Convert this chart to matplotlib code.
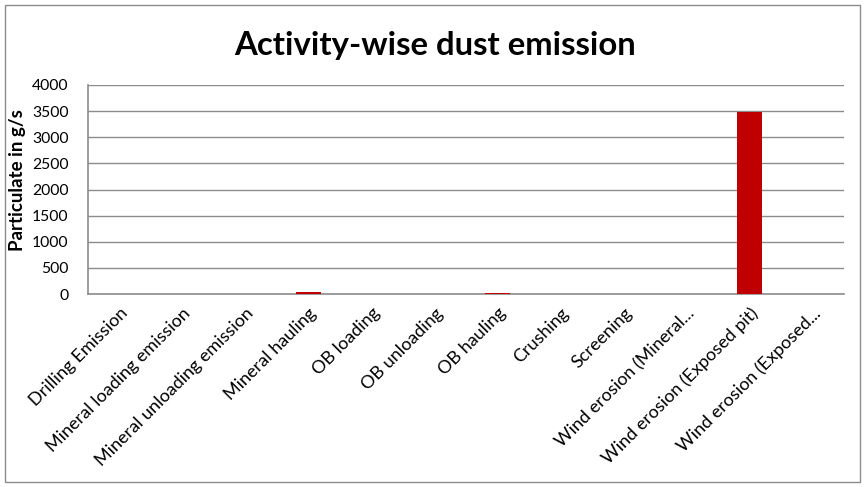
import matplotlib
matplotlib.use("Agg")
import matplotlib.pyplot as plt
from matplotlib.patches import Rectangle

categories = ["Drilling Emission", "Mineral loading emission", "Mineral unloading emission",
              "Mineral hauling", "OB loading", "OB unloading", "OB hauling", "Crushing",
              "Screening", "Wind erosion (Mineral...", "Wind erosion (Exposed pit)",
              "Wind erosion (Exposed..."]
values = [1, 0.5, 0.5, 35, 1, 1, 12, 2, 2, 3, 3485, 5]
yticks = [0, 500, 1000, 1500, 2000, 2500, 3000, 3500, 4000]

plt.rcParams['font.family'] = ['Lato', 'DejaVu Sans']

fig = plt.figure(figsize=(8.66, 4.87), dpi=100)
ax = fig.add_axes([88/866, 1-294/487, (844-88)/866, (294-85)/487])

x = list(range(len(categories)))
ax.bar(x, values, width=0.4, color='#C00000', zorder=3)
ax.set_xlim(-0.5, len(categories)-0.5)
ax.set_ylim(0, 4000)
ax.set_yticks(yticks)
ax.set_yticklabels([str(v) for v in yticks], fontsize=11.3)
ax.grid(axis='y', color='#8c8c8c', linewidth=1, zorder=0)
ax.set_xticks(x)
ax.set_xticklabels(categories, rotation=45, ha='right', rotation_mode='anchor',
                   fontsize=13)
ax.tick_params(axis='both', length=0)
ax.tick_params(axis='y', pad=14)
ax.tick_params(axis='x', pad=8)
for s in ['top', 'right']:
    ax.spines[s].set_visible(False)
for s in ['left', 'bottom']:
    ax.spines[s].set_color('#8c8c8c')
    ax.spines[s].set_linewidth(1.2)
ax.set_ylabel("Particulate in g/s", fontsize=13.5, fontweight='bold')
ax.yaxis.set_label_coords(-0.082, 0.545)

fig.text(435/866, 1-45/487, "Activity-wise dust emission", fontsize=23.7, fontweight='bold',
         ha='center', va='center')

fig.patches.append(Rectangle((5/866, 5/487), (860-5)/866, (482-5)/487, transform=fig.transFigure,
                             fill=False, edgecolor='#8c8c8c', linewidth=1))

fig.savefig("out.png", dpi=100)
